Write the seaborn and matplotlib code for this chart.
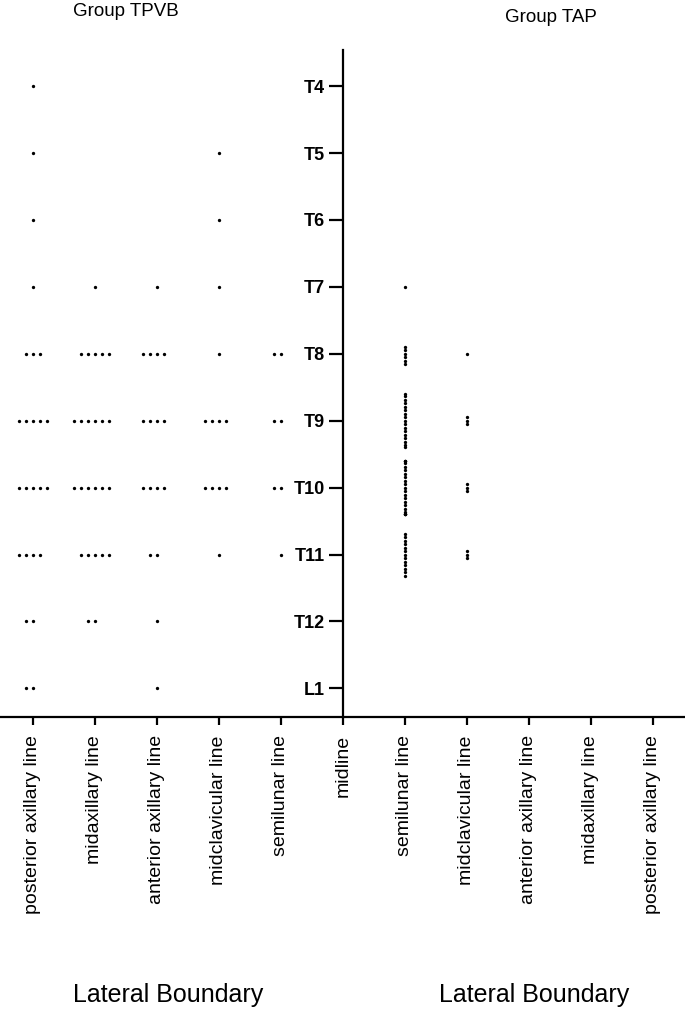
import numpy as np
import pandas as pd
import matplotlib
matplotlib.use("Agg")
import matplotlib.pyplot as plt
import seaborn as sns
import warnings
warnings.filterwarnings("ignore")

# ---- data ----
levels = ["T4", "T5", "T6", "T7", "T8", "T9", "T10", "T11", "T12", "L1"]
x_labels = ["posterior axillary line", "midaxillary line", "anterior axillary line",
            "midclavicular line", "semilunar line", "midline",
            "semilunar line", "midclavicular line", "anterior axillary line",
            "midaxillary line", "posterior axillary line"]

# number of patients whose block reached each level (T4..L1)
tpvb_posterior_axillary = [1, 1, 1, 1, 3, 5, 5, 4, 2, 2]
tpvb_midaxillary = [0, 0, 0, 1, 5, 6, 6, 5, 2, 0]
tpvb_anterior_axillary = [0, 0, 0, 1, 4, 4, 4, 2, 1, 1]
tpvb_midclavicular = [0, 1, 1, 1, 1, 4, 4, 1, 0, 0]
tpvb_semilunar = [0, 0, 0, 0, 2, 2, 2, 1, 0, 0]

tap_semilunar = [0, 0, 0, 1, 6, 17, 22, 13, 0, 0]
tap_midclavicular = [0, 0, 0, 0, 1, 3, 3, 3, 0, 0]


def expand(counts_by_line, positions):
    rows = []
    for counts, pos in zip(counts_by_line, positions):
        for i, c in enumerate(counts):
            rows += [{"pos": pos, "lvl": len(levels) - 1 - i}] * c
    return pd.DataFrame(rows)


left_df = expand([tpvb_posterior_axillary, tpvb_midaxillary, tpvb_anterior_axillary,
                  tpvb_midclavicular, tpvb_semilunar], [0, 1, 2, 3, 4])
right_df = expand([tap_semilunar, tap_midclavicular], [6, 7])

# ---- style ----
sns.set_style("ticks")
plt.rcParams["font.family"] = ["Liberation Sans", "DejaVu Sans"]
plt.rcParams["text.color"] = "black"

fig = plt.figure(figsize=(6.85, 10.10), dpi=100)
ax = fig.add_axes([0.0, 0.29, 1.0, 0.6605])

XLIM = (-0.53, 10.52)
YLIM = (-0.43, 9.54)
ax.set_xlim(*XLIM)
ax.set_ylim(*YLIM)

n0 = len(ax.collections)
# left group: spacing computed with a larger marker, drawn smaller afterwards
sns.swarmplot(data=left_df, x="pos", y="lvl", orient="x", native_scale=True,
              color="black", size=4.8, linewidth=0, ax=ax)
n1 = len(ax.collections)
sns.swarmplot(data=right_df, x="pos", y="lvl", orient="y", native_scale=True,
              color="black", size=2.4, linewidth=0, ax=ax)

ax.set_xlim(*XLIM)
ax.set_ylim(*YLIM)

ax.spines["top"].set_visible(False)
ax.spines["right"].set_visible(False)
ax.spines["left"].set_position(("data", 5))
for s in ("left", "bottom"):
    ax.spines[s].set_linewidth(1.6)
    ax.spines[s].set_color("black")

ax.set_xticks(range(len(x_labels)))
ax.set_xticklabels(x_labels, rotation=90, fontsize=14, va="top")
ax.set_yticks(range(len(levels)))
ax.set_yticklabels(levels[::-1], fontsize=13, fontweight="bold")
ax.tick_params(axis="x", direction="out", length=6, width=1.6, pad=7,
               colors="black", labelcolor="black")
ax.tick_params(axis="y", direction="out", length=10, width=1.6, pad=3,
               colors="black", labelcolor="black")
ax.set_xlabel("")
ax.set_ylabel("")

# compute swarm positions with final limits, then freeze and shrink left dots
fig.canvas.draw()
for coll in ax.collections[n0:n1]:
    if "draw" in coll.__dict__:
        del coll.__dict__["draw"]
    coll.set_sizes([2.4 ** 2])

fig.text(126 / 685, 1 - 12 / 1010, "Group TPVB", ha="center", va="center",
         fontsize=13.5, color="black")
fig.text(551 / 685, 1 - 17 / 1010, "Group TAP", ha="center", va="center",
         fontsize=13.5, color="black")
fig.text(168 / 685, 1 - 995 / 1010, "Lateral Boundary", ha="center", va="center",
         fontsize=18, color="black")
fig.text(534 / 685, 1 - 995 / 1010, "Lateral Boundary", ha="center", va="center",
         fontsize=18, color="black")

fig.savefig("out.png", dpi=100)
